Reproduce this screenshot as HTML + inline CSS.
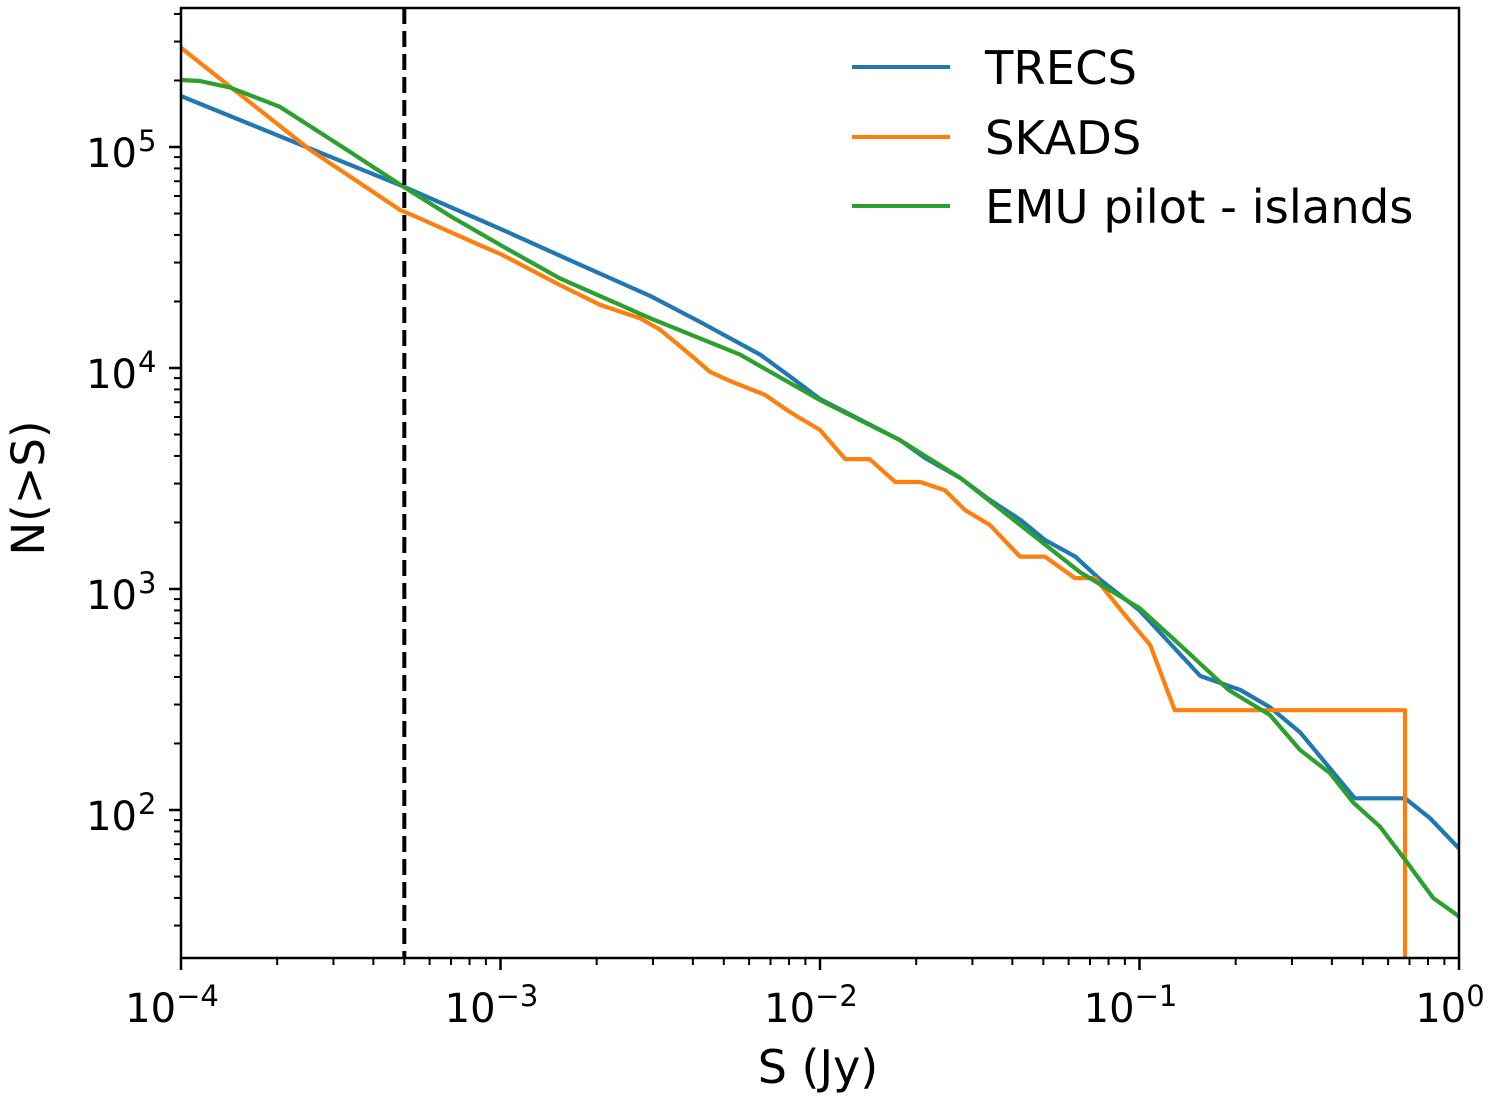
<!DOCTYPE html>
<html><head><meta charset="utf-8"><style>
body{margin:0;background:#fff}
svg text{font-family:"DejaVu Sans","Liberation Sans",sans-serif;fill:#000}
</style></head><body>
<svg id="chart" width="1499" height="1097" viewBox="0 0 1499 1097" xmlns="http://www.w3.org/2000/svg">
<g id="plot"></g>
<g id="axes"></g>
<text x="818" y="1083" font-size="46" text-anchor="middle">S (Jy)</text>
<text transform="translate(44,488) rotate(-90)" font-size="45" text-anchor="middle">N(&gt;S)</text>
<g>
<line x1="852" y1="67" x2="950" y2="67" stroke="#1f77b4" stroke-width="4"/>
<text x="985" y="84" font-size="46.5">TRECS</text>
<line x1="852" y1="137" x2="950" y2="137" stroke="#ff7f0e" stroke-width="4"/>
<text x="985" y="154" font-size="46.5">SKADS</text>
<line x1="852" y1="206" x2="950" y2="206" stroke="#2ca02c" stroke-width="4"/>
<text x="985" y="223" font-size="46.5">EMU pilot - islands</text>
</g>
</svg>
<script>
const trecsS=[1e-4,4.92e-4,1e-3,1.59e-3,2.94e-3,4.2e-3,6.5e-3,8.1e-3,0.01,0.0144,0.0178,0.0213,0.0275,0.034,0.0425,0.0505,0.063,0.0755,0.1,0.155,0.207,0.256,0.318,0.472,0.678,0.81,1];
const trecsN=[170000,66700,42600,31500,21200,16200,11500,9100,7240,5520,4720,3920,3180,2530,2050,1670,1400,1100,800,404,349,292,225,113,113,92,67];
const skadsS=[1e-4,2.54e-4,4.84e-4,5.6e-4,8.6e-4,1e-3,1.53e-3,2.05e-3,2.73e-3,3.16e-3,3.92e-3,4.53e-3,5.23e-3,6.73e-3,8.05e-3,0.01,0.012,0.0143,0.0172,0.0206,0.0246,0.0284,0.034,0.0423,0.0506,0.0628,0.0726,0.0901,0.108,0.129,0.678,0.678];
const skadsN=[281000,96900,52000,47500,36000,32800,23800,19300,16800,14900,11500,9600,8730,7550,6320,5240,3870,3870,3050,3050,2800,2280,1950,1400,1400,1120,1120,762,558,283,283,10];
const emuS=[1e-4,1.146e-4,1.42e-4,2.04e-4,3.31e-4,4.92e-4,6.95e-4,1e-3,1.53e-3,2.94e-3,5.62e-3,0.01,0.0178,0.0275,0.0423,0.0652,0.1,0.134,0.19,0.256,0.318,0.394,0.467,0.566,0.678,0.83,1];
const emuN=[201000,199000,186000,152000,96900,66700,48800,36000,25500,16800,11500,7160,4720,3180,1950,1190,820,558,349,269,187,147,108,84,59.5,40,33];
const xTickVals=[1e-4,1e-3,1e-2,1e-1,1];
const xTickExp=["\u22124","\u22123","\u22122","\u22121","0"];
const yTickVals=[1e2,1e3,1e4,1e5];
const yTickExp=["2","3","4","5"];
const cutoffS=5e-4;

const L=181,R=1459,T=8,B=958;
const xMinLog=-4,xMaxLog=0;
const yRef=147, pxPerDecY=221;
function xs(v){return L+(Math.log10(v)-xMinLog)/(xMaxLog-xMinLog)*(R-L);}
function ys(v){return yRef-(Math.log10(v)-5)*pxPerDecY;}
const yMinLog=5-(B-yRef)/pxPerDecY, yMaxLog=5+(yRef-T)/pxPerDecY;
const NS="http://www.w3.org/2000/svg";
const plot=document.getElementById('plot'),axes=document.getElementById('axes');
function mk(tag,attrs,parent){const e=document.createElementNS(NS,tag);for(const k in attrs)e.setAttribute(k,attrs[k]);parent.appendChild(e);return e;}

const defs=mk('defs',{},plot);
const cp=mk('clipPath',{id:'clip'},defs);
mk('rect',{x:L,y:T,width:R-L,height:B-T},cp);

const series=[[trecsS,trecsN,'#1f77b4','trecs-line'],[skadsS,skadsN,'#ff7f0e','skads-line'],[emuS,emuN,'#2ca02c','emu-line']];
series.forEach(s=>{
  const d=s[0].map((v,i)=>(i?'L':'M')+xs(v).toFixed(1)+','+ys(s[1][i]).toFixed(1)).join(' ');
  const p=mk('path',{d:d,fill:'none',stroke:s[2],'stroke-width':4.2,'clip-path':'url(#clip)','stroke-linejoin':'round'},plot);
  
  
});
const cl=mk('line',{x1:xs(cutoffS),x2:xs(cutoffS),y1:T,y2:B,stroke:'#000','stroke-width':4,'stroke-dasharray':'16,7'},plot);



const fr=mk('rect',{x:L,y:T,width:R-L,height:B-T,fill:'none',stroke:'#000','stroke-width':2.5},axes);



for(let e=xMinLog;e<=xMaxLog;e++){
  for(let m=1;m<10;m++){
    const v=m*Math.pow(10,e); if(Math.log10(v)>xMaxLog+1e-9)break;
    const x=xs(v);
    const t=mk('line',{x1:x,x2:x,y1:B,y2:B+(m===1?12:7),stroke:'#000','stroke-width':m===1?2.5:2},axes);
    
    
  }
}
xTickVals.forEach((v,i)=>{
  const t=mk('text',{x:xs(v)-9,y:1022,'font-size':40,'text-anchor':'middle'},axes);
  
  
  t.textContent='10';
  const s=mk('tspan',{'font-size':29,dy:-16},t); s.textContent=xTickExp[i];
});
for(let e=1;e<=5;e++){
  for(let m=1;m<10;m++){
    const lv=Math.log10(m*Math.pow(10,e));
    if(lv<yMinLog||lv>yMaxLog)continue;
    const y=ys(m*Math.pow(10,e));
    const t=mk('line',{x1:L-(m===1?12:7),x2:L,y1:y,y2:y,stroke:'#000','stroke-width':m===1?2.5:2},axes);
    
    
  }
}
yTickVals.forEach((v,i)=>{
  const t=mk('text',{x:137,y:ys(v)+20,'font-size':40,'text-anchor':'end'},axes);
  
  
  t.textContent='10';
  const s=mk('tspan',{'font-size':29,x:138,dy:-16,'text-anchor':'start'},t); s.textContent=yTickExp[i];
});
</script>
</body></html>
